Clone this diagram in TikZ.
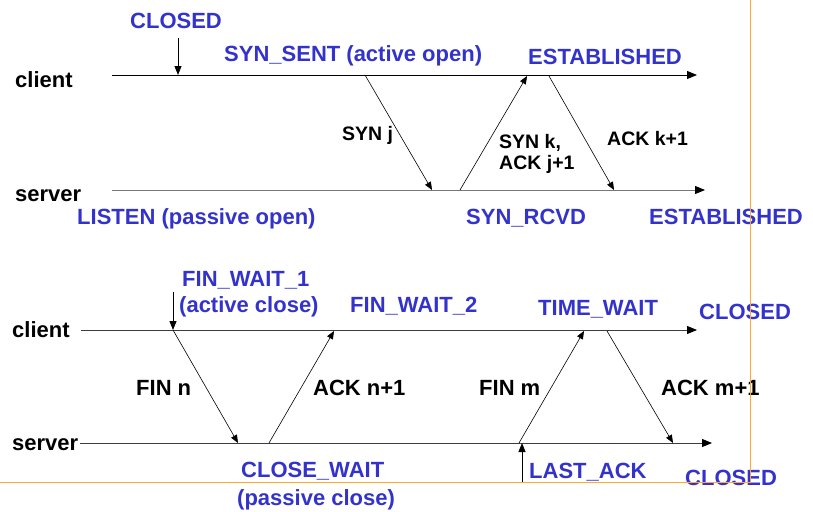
\documentclass[tikz,border=0pt]{standalone}
\usepackage{fontspec}
\setmainfont{Liberation Sans}
\usetikzlibrary{arrows.meta}
\definecolor{statecol}{RGB}{51,51,204}
\definecolor{framecol}{RGB}{255,170,40}
\definecolor{greyline}{RGB}{120,120,120}
\definecolor{darkline}{RGB}{60,60,60}
\begin{document}
\begin{tikzpicture}[x=1pt,y=-1pt,
  state/.style={anchor=base west, inner sep=0pt, text=statecol,
    font=\fontsize{22}{26}\selectfont\bfseries},
  host/.style={anchor=base west, inner sep=0pt,
    font=\fontsize{22}{26}\selectfont\bfseries},
  msgsmall/.style={anchor=base west, inner sep=0pt,
    font=\fontsize{19.5}{23}\selectfont\bfseries},
  msgbig/.style={anchor=base west, inner sep=0pt,
    font=\fontsize{22}{26}\selectfont\bfseries},
  timeline/.style={line width=0.9pt, -{Triangle[length=10pt,width=8pt,color=black]}},
  signal/.style={line width=0.6pt, -{Triangle[length=8pt,width=6.5pt]}},
  marker/.style={line width=0.9pt, -{Triangle[length=9pt,width=7pt]}},
  framerule/.style={framecol, line width=0.9pt}]
\useasboundingbox (0,0) rectangle (813,511);

% ---------- connection establishment ----------
\coordinate (c1a) at (112,75);
\coordinate (c1b) at (697,75);
\coordinate (s1a) at (112,190);
\coordinate (s1b) at (705,190);
\draw[timeline] (c1a) -- (c1b);
\draw[timeline, greyline] (s1a) -- (s1b);

\node[host] (client1) at (15,87) {client};
\node[host] (server1) at (15,201) {server};

\node[state] (closed1) at (130,29) {CLOSED};
\node[state] (synsent) at (224,62) {SYN\_SENT (active open)};
\node[state] (estc) at (528,64) {ESTABLISHED};
\node[state] (listen) at (77,224) {LISTEN (passive open)};
\node[state] (synrcvd) at (466,224) {SYN\_RCVD};
\node[state] (ests) at (649,224) {ESTABLISHED};

\coordinate (cl1top) at (178,38);
\coordinate (cl1bot) at (178,75);
\draw[marker] (cl1top) -- (cl1bot);

\coordinate (synjA) at (365,75);
\coordinate (synjB) at (432,190);
\coordinate (synkA) at (460,190);
\coordinate (synkB) at (527,76);
\coordinate (ackkA) at (549,76);
\coordinate (ackkB) at (614,190);
\draw[signal] (synjA) -- (synjB);
\draw[signal] (synkA) -- (synkB);
\draw[signal] (ackkA) -- (ackkB);

\node[msgsmall] (lsynj) at (342,140) {SYN j};
\node[msgsmall] (lsynk) at (499,148) {SYN k,};
\node[msgsmall] (lackj) at (499,169) {ACK j+1};
\node[msgsmall] (lackk) at (607,145) {ACK k+1};

% ---------- connection termination ----------
\coordinate (c2a) at (81,330);
\coordinate (c2b) at (697,330);
\coordinate (s2a) at (80,443);
\coordinate (s2b) at (712,443);
\draw[timeline, darkline] (c2a) -- (c2b);
\draw[timeline, darkline] (s2a) -- (s2b);

\node[host] (client2) at (12,337) {client};
\node[host] (server2) at (12,450) {server};

\node[state] (finw1) at (182,286) {FIN\_WAIT\_1};
\node[state] (activeclose) at (179,312) {(active close)};
\node[state] (finw2) at (350,312) {FIN\_WAIT\_2};
\node[state] (timewait) at (538,315) {TIME\_WAIT};
\node[state] (closedc) at (699,319) {CLOSED};
\node[state] (closewait) at (241,477) {CLOSE\_WAIT};
\node[state] (passiveclose) at (237,505) {(passive close)};
\node[state] (lastack) at (529,478) {LAST\_ACK};
\node[state] (closeds) at (685,485) {CLOSED};

\coordinate (fw1top) at (173,292);
\coordinate (fw1bot) at (173,330);
\draw[marker] (fw1top) -- (fw1bot);

\coordinate (labot) at (522,482);
\coordinate (latop) at (522,443);
\draw[marker] (labot) -- (latop);

\coordinate (finnA) at (173,330);
\coordinate (finnB) at (238,443);
\coordinate (acknA) at (269,443);
\coordinate (acknB) at (334,331);
\coordinate (finmA) at (519,443);
\coordinate (finmB) at (584,331);
\coordinate (ackmA) at (607,331);
\coordinate (ackmB) at (673,443);
\draw[signal] (finnA) -- (finnB);
\draw[signal] (acknA) -- (acknB);
\draw[signal] (finmA) -- (finmB);
\draw[signal] (ackmA) -- (ackmB);

\node[msgbig] (lfinn) at (136,395) {FIN n};
\node[msgbig] (lackn) at (313,395) {ACK n+1};
\node[msgbig] (lfinm) at (479,395) {FIN m};
\node[msgbig] (lackm) at (661,395) {ACK m+1};

% slide frame edges, drawn over everything
\coordinate (fr1) at (750,0);
\coordinate (fr2) at (750,482);
\coordinate (fr3) at (0,482);
\draw[framerule] (fr1) -- (fr2) -- (fr3);
\end{tikzpicture}
\end{document}
